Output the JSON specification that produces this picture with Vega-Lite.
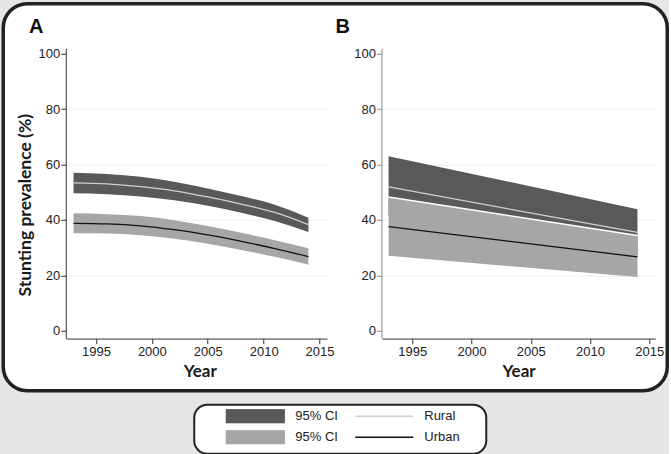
{
  "$schema": "https://vega.github.io/schema/vega-lite/v6.json",
  "background": "#e6e6e6",
  "padding": {"left": 1.25, "top": 1.75, "right": 0, "bottom": 0},
  "config": {
    "axis": {"labelFont": "Liberation Sans", "labelFontSize": 13, "labelColor": "#222222", "titleFont": "Lato", "titleFontSize": 17, "titleFontWeight": "bold", "titleColor": "#1a1a1a", "domainColor": "#333333", "tickColor": "#333333", "tickSize": 5, "gridColor": "#eeeeee"}
  },
  "datasets": {
    "Ar": [
      {"year": 1993, "lo": 49.6, "mid": 53.4, "hi": 57.0, "band": "Rural CI", "line": "Rural"},
      {"year": 1996, "lo": 49.3, "mid": 53.0, "hi": 56.6, "band": "Rural CI", "line": "Rural"},
      {"year": 1999, "lo": 48.5, "mid": 52.0, "hi": 55.6, "band": "Rural CI", "line": "Rural"},
      {"year": 2002, "lo": 47.1, "mid": 50.5, "hi": 53.8, "band": "Rural CI", "line": "Rural"},
      {"year": 2005, "lo": 45.1, "mid": 48.3, "hi": 51.3, "band": "Rural CI", "line": "Rural"},
      {"year": 2008, "lo": 42.6, "mid": 45.7, "hi": 48.6, "band": "Rural CI", "line": "Rural"},
      {"year": 2011, "lo": 39.6, "mid": 42.7, "hi": 45.5, "band": "Rural CI", "line": "Rural"},
      {"year": 2014, "lo": 35.7, "mid": 38.3, "hi": 40.8, "band": "Rural CI", "line": "Rural"}
    ],
    "Au": [
      {"year": 1993, "lo": 35.2, "mid": 38.8, "hi": 42.4, "band": "Urban CI", "line": "Urban"},
      {"year": 1996, "lo": 35.1, "mid": 38.6, "hi": 42.1, "band": "Urban CI", "line": "Urban"},
      {"year": 1999, "lo": 34.5, "mid": 37.9, "hi": 41.4, "band": "Urban CI", "line": "Urban"},
      {"year": 2002, "lo": 33.2, "mid": 36.5, "hi": 39.9, "band": "Urban CI", "line": "Urban"},
      {"year": 2005, "lo": 31.4, "mid": 34.6, "hi": 37.8, "band": "Urban CI", "line": "Urban"},
      {"year": 2008, "lo": 29.2, "mid": 32.3, "hi": 35.4, "band": "Urban CI", "line": "Urban"},
      {"year": 2011, "lo": 26.7, "mid": 29.7, "hi": 32.7, "band": "Urban CI", "line": "Urban"},
      {"year": 2014, "lo": 23.9, "mid": 26.8, "hi": 29.8, "band": "Urban CI", "line": "Urban"}
    ],
    "Br": [
      {"year": 1993, "lo": 41.5, "mid": 51.9, "hi": 63.0, "band": "Rural CI", "line": "Rural"},
      {"year": 2014, "lo": 27.5, "mid": 35.5, "hi": 43.9, "band": "Rural CI", "line": "Rural"}
    ],
    "Bu": [
      {"year": 1993, "lo": 27.1, "mid": 37.6, "hi": 48.3, "band": "Urban CI", "line": "Urban"},
      {"year": 2014, "lo": 19.4, "mid": 26.7, "hi": 34.4, "band": "Urban CI", "line": "Urban"}
    ],
    "labA": [{"t": "A"}],
    "labB": [{"t": "B"}]
  },
  "spacing": 11,
  "vconcat": [
    {
      "width": 664,
      "height": 387,
      "view": {"fill": "white", "stroke": "#222222", "strokeWidth": 3.5, "cornerRadius": 24},
      "resolve": {"scale": {"x": "independent", "y": "independent"}, "axis": {"x": "independent", "y": "independent"}},
      "layer": [
        {
          "layer": [
            {
              "data": {"name": "Ar"},
              "mark": {"type": "area", "interpolate": "monotone"},
              "encoding": {
                "x": {"field": "year", "type": "quantitative", "scale": {"domain": [1992.32, 2015.66], "range": [62.7, 323.7], "nice": false, "zero": false},
                  "axis": {"orient": "bottom", "offset": -52.2, "values": [1995, 2000, 2005, 2010, 2015], "format": "d", "title": "Year", "labelPadding": 2, "titlePadding": 5, "titleX": 196.5, "grid": false}},
                "y": {"field": "lo", "type": "quantitative", "scale": {"domain": [-2.6, 101.9], "range": [334.4, 44.5], "nice": false, "zero": false},
                  "axis": {"orient": "left", "offset": -62.5, "values": [0, 20, 40, 60, 80, 100], "title": "Stunting prevalence (%)", "titleY": 201, "titleFontSize": 17.5, "labelPadding": 1, "titlePadding": 4, "grid": true, "gridOpacity": {"condition": {"test": "datum.value == 0 || datum.value == 100", "value": 0}, "value": 1}}},
                "y2": {"field": "hi"},
                "color": {"field": "band", "type": "nominal",
                  "scale": {"domain": ["Rural CI", "Urban CI", "Rural", "Urban"], "range": ["#595959", "#a6a6a6", "#d0d0d0", "#111111"]},
                  "legend": {
                    "orient": "none", "legendX": 222, "legendY": 405.5, "title": null, "columns": 2,
                    "symbolSize": 3364, "clipHeight": 14, "labelOffset": 10, "columnPadding": 16, "rowPadding": 7,
                    "labelFont": "Liberation Sans", "labelFontSize": 13, "labelColor": "#222222", "zindex": 2,
                    "labelExpr": "indexof(datum.label, 'CI') >= 0 ? '95% CI' : datum.label",
                    "encode": {"symbols": {"update": {
                      "shape": {"signal": "indexof(datum.value, 'CI') >= 0 ? 'M-1,-0.2414H1V0.2414H-1Z' : 'stroke'"},
                      "fill": {"signal": "datum.value === 'Rural CI' ? '#595959' : datum.value === 'Urban CI' ? '#a6a6a6' : 'transparent'"},
                      "stroke": {"signal": "datum.value === 'Rural' ? '#b4b4b4' : datum.value === 'Urban' ? '#111111' : 'transparent'"},
                      "strokeWidth": {"value": 1.3},
                      "opacity": {"value": 1}, "fillOpacity": {"value": 1}, "strokeOpacity": {"value": 1}
                    }}}
                  }}
              }
            },
            {
              "data": {"name": "Au"},
              "mark": {"type": "area", "interpolate": "monotone"},
              "encoding": {
                "x": {"field": "year", "type": "quantitative", "scale": {"domain": [1992.32, 2015.66], "range": [62.7, 323.7], "nice": false, "zero": false}},
                "y": {"field": "lo", "type": "quantitative", "scale": {"domain": [-2.6, 101.9], "range": [334.4, 44.5], "nice": false, "zero": false}},
                "y2": {"field": "hi"},
                "color": {"field": "band", "type": "nominal", "scale": {"domain": ["Rural CI", "Urban CI", "Rural", "Urban"], "range": ["#595959", "#a6a6a6", "#d0d0d0", "#111111"]}}
              }
            },
            {
              "data": {"name": "Ar"},
              "mark": {"type": "line", "interpolate": "monotone", "strokeWidth": 1.3},
              "encoding": {
                "x": {"field": "year", "type": "quantitative", "scale": {"domain": [1992.32, 2015.66], "range": [62.7, 323.7], "nice": false, "zero": false}},
                "y": {"field": "mid", "type": "quantitative", "scale": {"domain": [-2.6, 101.9], "range": [334.4, 44.5], "nice": false, "zero": false}},
                "color": {"field": "line", "type": "nominal", "scale": {"domain": ["Rural CI", "Urban CI", "Rural", "Urban"], "range": ["#595959", "#a6a6a6", "#d0d0d0", "#111111"]}}
              }
            },
            {
              "data": {"name": "Au"},
              "mark": {"type": "line", "interpolate": "monotone", "strokeWidth": 1.3},
              "encoding": {
                "x": {"field": "year", "type": "quantitative", "scale": {"domain": [1992.32, 2015.66], "range": [62.7, 323.7], "nice": false, "zero": false}},
                "y": {"field": "mid", "type": "quantitative", "scale": {"domain": [-2.6, 101.9], "range": [334.4, 44.5], "nice": false, "zero": false}},
                "color": {"field": "line", "type": "nominal", "scale": {"domain": ["Rural CI", "Urban CI", "Rural", "Urban"], "range": ["#595959", "#a6a6a6", "#d0d0d0", "#111111"]}}
              }
            },
            {
              "data": {"name": "labA"},
              "mark": {"type": "text", "font": "Liberation Sans", "fontSize": 20, "fontWeight": "bold", "align": "center", "baseline": "alphabetic", "color": "#111111"},
              "encoding": {
                "x": {"datum": 1989.66, "type": "quantitative", "scale": {"domain": [1992.32, 2015.66], "range": [62.7, 323.7], "nice": false, "zero": false}},
                "y": {"datum": 107.4, "type": "quantitative", "scale": {"domain": [-2.6, 101.9], "range": [334.4, 44.5], "nice": false, "zero": false}},
                "text": {"field": "t"}
              }
            }
          ]
        },
        {
          "layer": [
            {
              "data": {"name": "Br"},
              "mark": {"type": "area"},
              "encoding": {
                "x": {"field": "year", "type": "quantitative", "scale": {"domain": [1992.44, 2015.5], "range": [378.7, 652], "nice": false, "zero": false},
                  "axis": {"orient": "bottom", "offset": -52.2, "values": [1995, 2000, 2005, 2010, 2015], "format": "d", "title": "Year", "labelPadding": 2, "titlePadding": 5, "grid": false}},
                "y": {"field": "lo", "type": "quantitative", "scale": {"domain": [-2.6, 101.9], "range": [334.4, 44.5], "nice": false, "zero": false},
                  "axis": {"orient": "left", "offset": -378.2, "values": [0, 20, 40, 60, 80, 100], "title": null, "labelPadding": 1, "domainColor": "#8a8a8a", "tickColor": "#8a8a8a", "grid": true, "gridOpacity": {"condition": {"test": "datum.value == 0 || datum.value == 100", "value": 0}, "value": 1}}},
                "y2": {"field": "hi"},
                "color": {"field": "band", "type": "nominal", "scale": {"domain": ["Rural CI", "Urban CI", "Rural", "Urban"], "range": ["#595959", "#a6a6a6", "#d0d0d0", "#111111"]}}
              }
            },
            {
              "data": {"name": "Bu"},
              "mark": {"type": "area"},
              "encoding": {
                "x": {"field": "year", "type": "quantitative", "scale": {"domain": [1992.44, 2015.5], "range": [378.7, 652], "nice": false, "zero": false}},
                "y": {"field": "lo", "type": "quantitative", "scale": {"domain": [-2.6, 101.9], "range": [334.4, 44.5], "nice": false, "zero": false}},
                "y2": {"field": "hi"},
                "color": {"field": "band", "type": "nominal", "scale": {"domain": ["Rural CI", "Urban CI", "Rural", "Urban"], "range": ["#595959", "#a6a6a6", "#d0d0d0", "#111111"]}}
              }
            },
            {
              "data": {"name": "Bu"},
              "mark": {"type": "line", "color": "#ffffff", "strokeWidth": 1.5},
              "encoding": {
                "x": {"field": "year", "type": "quantitative", "scale": {"domain": [1992.44, 2015.5], "range": [378.7, 652], "nice": false, "zero": false}},
                "y": {"field": "hi", "type": "quantitative", "scale": {"domain": [-2.6, 101.9], "range": [334.4, 44.5], "nice": false, "zero": false}}
              }
            },
            {
              "data": {"name": "Br"},
              "mark": {"type": "line", "strokeWidth": 1.3},
              "encoding": {
                "x": {"field": "year", "type": "quantitative", "scale": {"domain": [1992.44, 2015.5], "range": [378.7, 652], "nice": false, "zero": false}},
                "y": {"field": "mid", "type": "quantitative", "scale": {"domain": [-2.6, 101.9], "range": [334.4, 44.5], "nice": false, "zero": false}},
                "color": {"field": "line", "type": "nominal", "scale": {"domain": ["Rural CI", "Urban CI", "Rural", "Urban"], "range": ["#595959", "#a6a6a6", "#d0d0d0", "#111111"]}}
              }
            },
            {
              "data": {"name": "Bu"},
              "mark": {"type": "line", "strokeWidth": 1.3},
              "encoding": {
                "x": {"field": "year", "type": "quantitative", "scale": {"domain": [1992.44, 2015.5], "range": [378.7, 652], "nice": false, "zero": false}},
                "y": {"field": "mid", "type": "quantitative", "scale": {"domain": [-2.6, 101.9], "range": [334.4, 44.5], "nice": false, "zero": false}},
                "color": {"field": "line", "type": "nominal", "scale": {"domain": ["Rural CI", "Urban CI", "Rural", "Urban"], "range": ["#595959", "#a6a6a6", "#d0d0d0", "#111111"]}}
              }
            },
            {
              "data": {"name": "labB"},
              "mark": {"type": "text", "font": "Liberation Sans", "fontSize": 20, "fontWeight": "bold", "align": "center", "baseline": "alphabetic", "color": "#111111"},
              "encoding": {
                "x": {"datum": 1989.13, "type": "quantitative", "scale": {"domain": [1992.44, 2015.5], "range": [378.7, 652], "nice": false, "zero": false}},
                "y": {"datum": 107.4, "type": "quantitative", "scale": {"domain": [-2.6, 101.9], "range": [334.4, 44.5], "nice": false, "zero": false}},
                "text": {"field": "t"}
              }
            }
          ]
        }
      ]
    },
    {
      "spacing": 20,
      "hconcat": [
        {
          "width": 170,
          "height": 49,
          "view": {"stroke": null, "fill": null},
          "data": {"values": []},
          "mark": "rule",
          "encoding": {}
        },
        {
          "width": 292,
          "height": 49,
          "view": {"fill": "white", "stroke": "#222222", "strokeWidth": 2, "cornerRadius": 13},
          "data": {"values": []},
          "mark": "rule",
          "encoding": {}
        }
      ]
    }
  ]
}
